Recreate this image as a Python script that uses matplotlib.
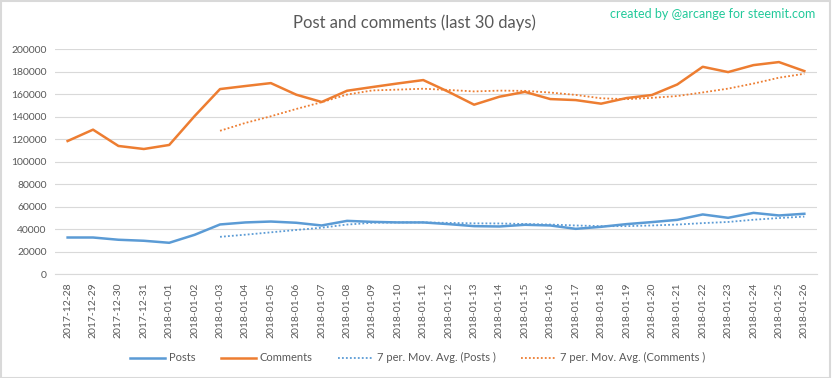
import matplotlib
matplotlib.use("Agg")
import matplotlib.pyplot as plt
from matplotlib.patches import Rectangle

plt.rcParams['font.family'] = ['Lato', 'DejaVu Sans']

dates = [
    "2017-12-28", "2017-12-29", "2017-12-30", "2017-12-31", "2018-01-01",
    "2018-01-02", "2018-01-03", "2018-01-04", "2018-01-05", "2018-01-06",
    "2018-01-07", "2018-01-08", "2018-01-09", "2018-01-10", "2018-01-11",
    "2018-01-12", "2018-01-13", "2018-01-14", "2018-01-15", "2018-01-16",
    "2018-01-17", "2018-01-18", "2018-01-19", "2018-01-20", "2018-01-21",
    "2018-01-22", "2018-01-23", "2018-01-24", "2018-01-25", "2018-01-26",
]

posts = [32500, 32500, 30500, 29600, 27800, 34900, 44100, 45900, 46700, 45600,
         43200, 47300, 46400, 45900, 45900, 44400, 42600, 42300, 43800, 43200,
         40200, 42000, 44400, 46200, 48200, 53000, 50000, 54400, 52100, 53600]

comments = [118300, 128400, 113900, 111200, 114800, 140500, 164500, 167200, 169800, 159500,
            153000, 163000, 166300, 169500, 172500, 162000, 150600, 157700, 162000, 155600,
            154700, 151500, 156500, 159200, 168600, 184300, 179600, 185800, 188500, 180500]

# 7 per. moving averages as drawn (start at 2018-01-03)
posts_ma = [33100, 35000, 37100, 39200, 41200, 44000, 45600, 45900, 45900, 45500,
            45100, 45000, 44500, 44000, 43200, 42600, 42600, 43200, 44000, 45300,
            46300, 48300, 49800, 51100]
comments_ma = [127400, 134400, 140300, 146800, 152800, 159600, 163300, 164000, 164800, 163700,
               162400, 163100, 162900, 161400, 159300, 156300, 155500, 156700, 158300, 161500,
               164900, 169400, 174600, 178100]

BLUE = "#5B9BD5"
ORANGE = "#ED7D31"
GRID = "#D9D9D9"
TXT = "#595959"

fig = plt.figure(figsize=(8.32, 3.78), dpi=100)
fig.patches.append(Rectangle((0.001, 0.001), 0.997, 0.996, transform=fig.transFigure,
                             fill=False, edgecolor=GRID, linewidth=1.5))
ax = fig.add_axes([0.066, 0.275, 0.916, 0.595])

x = list(range(len(dates)))
x_ma = x[6:]

ax.plot(x, posts, color=BLUE, lw=1.8, label="Posts")
ax.plot(x, comments, color=ORANGE, lw=1.8, label="Comments")
ax.plot(x_ma, posts_ma, color=BLUE, lw=1.3, ls=(0, (1, 1.2)), label="7 per. Mov. Avg. (Posts )")
ax.plot(x_ma, comments_ma, color=ORANGE, lw=1.3, ls=(0, (1, 1.2)), label="7 per. Mov. Avg. (Comments )")

ax.set_xlim(-0.5, len(dates) - 0.5)
ax.set_ylim(0, 200000)
ax.set_yticks(range(0, 200001, 20000))
ax.set_yticklabels([str(v) for v in range(0, 200001, 20000)])
ax.set_xticks(x)
ax.set_xticklabels(dates, rotation=90)
ax.tick_params(axis='both', length=0, labelsize=7.5, colors=TXT, pad=6)
ax.grid(axis='y', color=GRID, lw=0.8)
ax.set_axisbelow(True)
for s in ['top', 'right', 'left']:
    ax.spines[s].set_visible(False)
ax.spines['bottom'].set_color(GRID)
ax.spines['bottom'].set_linewidth(0.8)

fig.text(0.498, 0.94, "Post and comments (last 30 days)", ha='center', va='center',
         fontsize=12, color=TXT)
fig.text(0.98, 0.962, "created by @arcange for steemit.com", ha='right', va='center',
         fontsize=9, color="#22C99A")

fig.legend(loc='center', bbox_to_anchor=(0.502, 0.053), ncol=4, frameon=False,
           fontsize=8, handlelength=3.15, handletextpad=0.35, columnspacing=2.3,
           labelcolor=TXT)

fig.savefig("out.png", dpi=100, facecolor='white')
